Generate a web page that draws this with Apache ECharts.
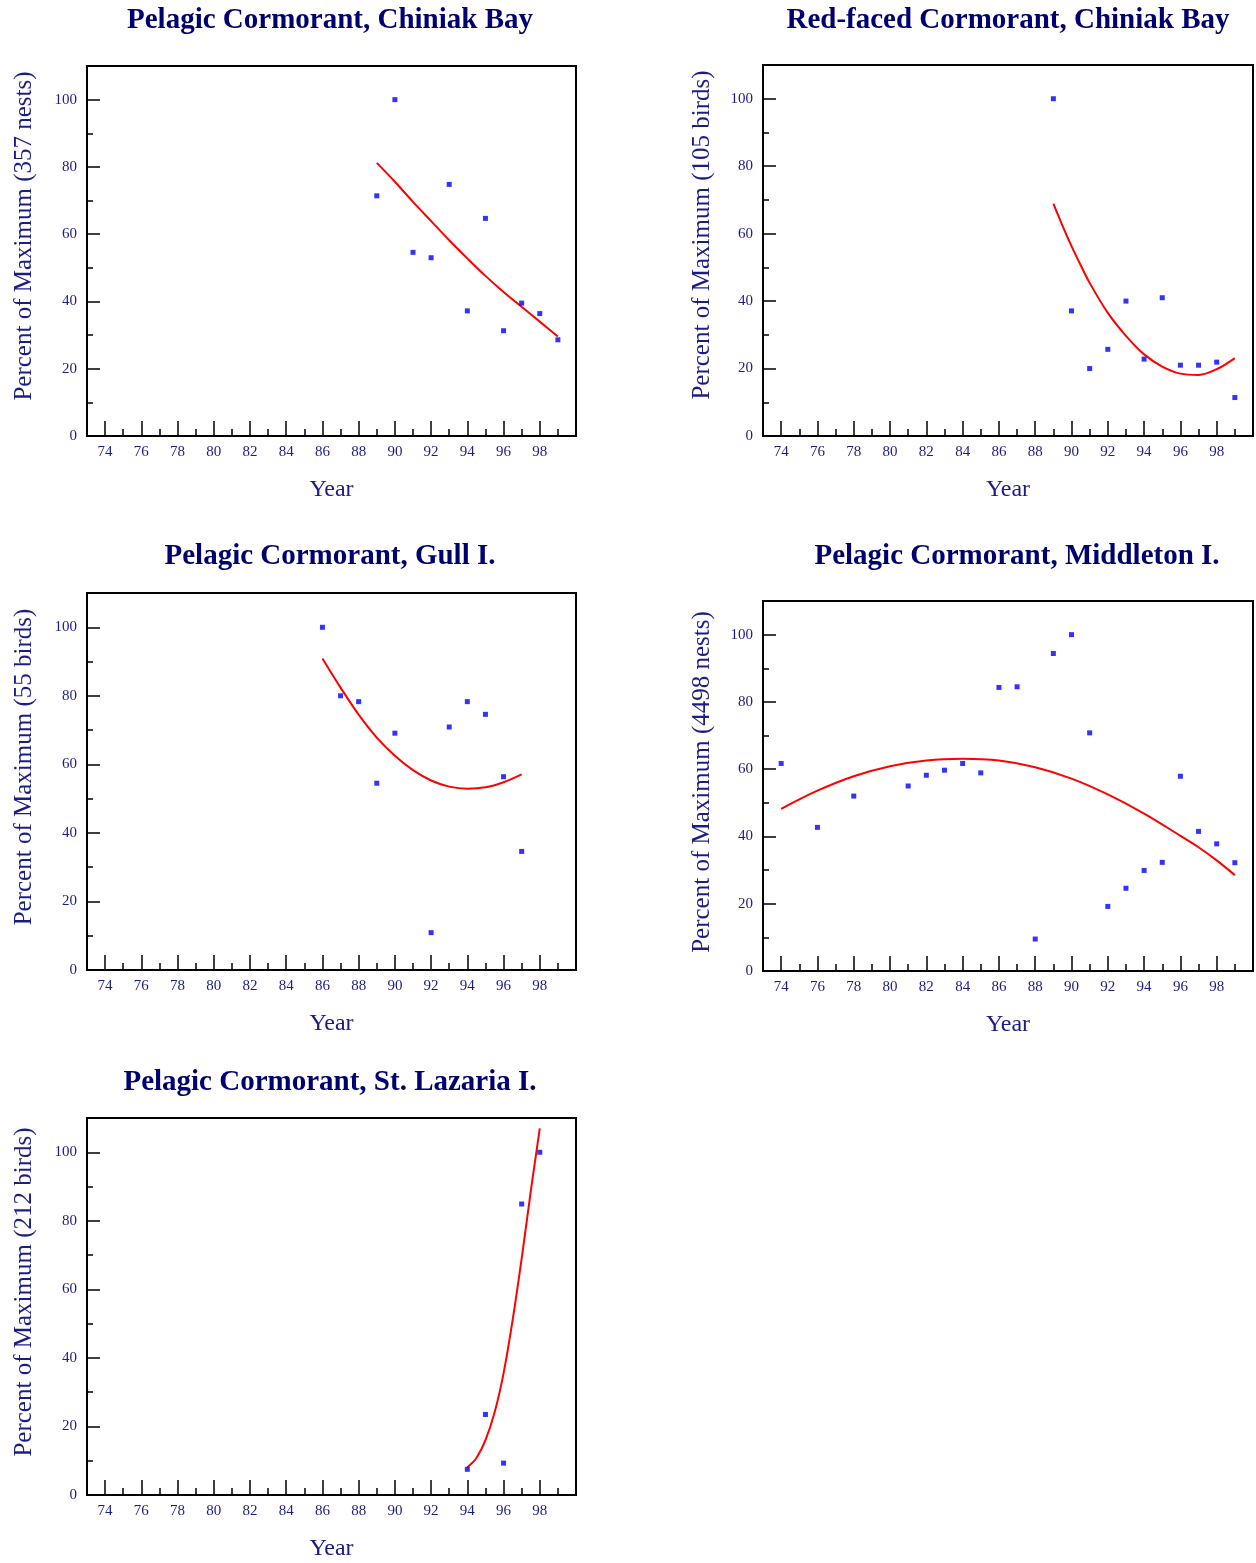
<!DOCTYPE html>
<html>
<head>
<meta charset="utf-8">
<script src="https://cdn.jsdelivr.net/npm/echarts@6/dist/echarts.min.js"></script>
<style>
  html, body { margin: 0; padding: 0; background: #ffffff; }
  #chart { width: 1256px; height: 1563px; }
</style>
</head>
<body>
<div id="chart"></div>
<script>
// Axis tick labels
const yearLabels = [74, 76, 78, 80, 82, 84, 86, 88, 90, 92, 94, 96, 98];
const pctLabels = [0, 20, 40, 60, 80, 100];
const pctMinor = [10, 30, 50, 70, 90];

// Pelagic Cormorant, Chiniak Bay (357 nests)
const chiniakPcYears = [89, 90, 91, 92, 93, 94, 95, 96, 97, 98, 99];
const chiniakPcPct = [71.4, 100, 54.6, 53.0, 74.8, 37.2, 64.7, 31.3, 39.5, 36.4, 28.6];
const chiniakPcTrendYears = [89, 90, 91, 92, 93, 94, 95, 96, 97, 98, 99];
const chiniakPcTrend = [81.2, 75.6, 69.6, 63.9, 58.2, 52.8, 47.6, 42.8, 38.4, 34.0, 29.6];

// Red-faced Cormorant, Chiniak Bay (105 birds)
const chiniakRfYears = [89, 90, 91, 92, 93, 94, 95, 96, 97, 98, 99];
const chiniakRfPct = [100, 37.1, 20.0, 25.7, 40.0, 22.8, 41.0, 21.0, 21.0, 21.9, 11.4];
const chiniakRfTrendYears = [89, 89.5, 90, 90.5, 91, 92, 93, 94, 95, 96, 97, 98, 99];
const chiniakRfTrend = [68.9, 62.4, 56.3, 50.7, 45.4, 36.5, 29.7, 24.2, 20.6, 18.5, 18.1, 19.8, 23.1];

// Pelagic Cormorant, Gull I. (55 birds)
const gullYears = [86, 87, 88, 89, 90, 92, 93, 94, 95, 96, 97];
const gullPct = [100, 80.0, 78.3, 54.5, 69.1, 10.9, 70.9, 78.3, 74.6, 56.4, 34.6];
const gullTrendYears = [86, 87, 88, 89, 90, 91, 92, 93, 94, 95, 96, 97];
const gullTrend = [90.9, 82.4, 74.5, 67.8, 62.5, 58.3, 55.3, 53.5, 52.9, 53.3, 54.8, 57.1];

// Pelagic Cormorant, Middleton I. (4498 nests)
const middletonYears = [74, 76, 78, 81, 82, 83, 84, 85, 86, 87, 88, 89, 90, 91, 92, 93, 94, 95, 96, 97, 98, 99];
const middletonPct = [61.7, 42.7, 52.0, 55.0, 58.2, 59.7, 61.7, 58.9, 84.3, 84.5, 9.5, 94.4, 100, 70.8, 19.2, 24.6, 29.9, 32.3, 57.9, 41.5, 37.8, 32.2];
const middletonTrendYears = [74, 76, 78, 80, 82, 84, 86, 88, 90, 92, 94, 96, 97, 98, 99];
const middletonTrend = [48.2, 53.6, 57.9, 60.9, 62.6, 63.1, 62.6, 60.6, 57.2, 52.5, 46.8, 40.2, 36.8, 32.9, 28.5];

// Pelagic Cormorant, St. Lazaria I. (212 birds)
const lazariaYears = [94, 95, 96, 97, 98];
const lazariaPct = [7.5, 23.5, 9.3, 84.9, 100];
const lazariaTrendYears = [94, 94.5, 95, 95.5, 96, 96.5, 97, 97.5, 98];
const lazariaTrend = [8.1, 10.8, 16, 24, 35.5, 51, 69, 88.5, 107];

const panels = [
  { title: 'Pelagic Cormorant, Chiniak Bay', yName: 'Percent of Maximum (357 nests)',
    years: chiniakPcYears, pct: chiniakPcPct, tYears: chiniakPcTrendYears, trend: chiniakPcTrend },
  { title: 'Red-faced Cormorant, Chiniak Bay', yName: 'Percent of Maximum (105 birds)',
    years: chiniakRfYears, pct: chiniakRfPct, tYears: chiniakRfTrendYears, trend: chiniakRfTrend },
  { title: 'Pelagic Cormorant, Gull I.', yName: 'Percent of Maximum (55 birds)',
    years: gullYears, pct: gullPct, tYears: gullTrendYears, trend: gullTrend },
  { title: 'Pelagic Cormorant, Middleton I.', yName: 'Percent of Maximum (4498 nests)',
    years: middletonYears, pct: middletonPct, tYears: middletonTrendYears, trend: middletonTrend },
  { title: 'Pelagic Cormorant, St. Lazaria I.', yName: 'Percent of Maximum (212 birds)',
    years: lazariaYears, pct: lazariaPct, tYears: lazariaTrendYears, trend: lazariaTrend }
];

// Layout of each panel: plot box, title centre, y-title centre
const layout = [
  { left: 87,  top: 66,   width: 489, height: 370, titleX: 330,  titleY: 21,   yNameX: 24,  yNameY: 236 },
  { left: 763, top: 65,   width: 490, height: 371, titleX: 1008, titleY: 21,   yNameX: 702, yNameY: 235 },
  { left: 87,  top: 593,  width: 489, height: 377, titleX: 330,  titleY: 557,  yNameX: 24,  yNameY: 767 },
  { left: 763, top: 601,  width: 490, height: 370, titleX: 1017, titleY: 557,  yNameX: 702, yNameY: 782 },
  { left: 87,  top: 1118, width: 489, height: 377, titleX: 330,  titleY: 1083, yNameX: 24,  yNameY: 1292 }
];

const SERIF = '"Liberation Serif", "Times New Roman", Times, serif';
const TITLE_COLOR = '#000070';
const TEXT_COLOR = '#1c1c86';
const tickStyle = { color: '#000', width: 1.5 };

const grid = [], xAxis = [], yAxis = [], series = [], graphic = [];

panels.forEach((p, i) => {
  const L = layout[i];
  grid.push({
    left: L.left, top: L.top, width: L.width, height: L.height,
    show: true, borderColor: '#000', borderWidth: 2, backgroundColor: 'transparent'
  });

  // yearly short ticks + axis line
  xAxis.push({
    gridIndex: i, type: 'value', min: 73, max: 100, interval: 1, position: 'bottom',
    axisLine: { show: true, lineStyle: { color: '#000', width: 2 } },
    splitLine: { show: false },
    axisTick: { show: true, inside: true, length: 7, lineStyle: tickStyle },
    axisLabel: { show: false },
    name: 'Year', nameLocation: 'middle', nameGap: 42,
    nameTextStyle: { fontFamily: SERIF, fontSize: 24, color: TEXT_COLOR }
  });
  // long ticks and labels on even years
  xAxis.push({
    gridIndex: i, type: 'value', min: 73, max: 100, position: 'bottom',
    axisLine: { show: false }, splitLine: { show: false },
    axisTick: { show: true, inside: true, length: 15, customValues: yearLabels, lineStyle: tickStyle },
    axisLabel: { show: true, customValues: yearLabels, margin: 9,
      fontFamily: SERIF, fontSize: 15, color: TEXT_COLOR }
  });

  yAxis.push({
    gridIndex: i, type: 'value', min: 0, max: 110, position: 'left',
    axisLine: { show: true, lineStyle: { color: '#000', width: 2 } },
    splitLine: { show: false },
    axisTick: { show: true, inside: true, length: 13, customValues: pctLabels, lineStyle: tickStyle },
    axisLabel: { show: true, customValues: pctLabels, margin: 10,
      fontFamily: SERIF, fontSize: 15, color: TEXT_COLOR }
  });
  yAxis.push({
    gridIndex: i, type: 'value', min: 0, max: 110, position: 'left',
    axisLine: { show: false }, splitLine: { show: false },
    axisTick: { show: true, inside: true, length: 6, customValues: pctMinor, lineStyle: tickStyle },
    axisLabel: { show: false }
  });

  series.push({
    type: 'line', xAxisIndex: 2 * i, yAxisIndex: 2 * i,
    data: p.tYears.map((x, k) => [x, p.trend[k]]),
    smooth: 0.35, showSymbol: false, silent: true,
    lineStyle: { color: '#ff0000', width: 2 }, z: 3
  });
  series.push({
    type: 'scatter', xAxisIndex: 2 * i, yAxisIndex: 2 * i,
    data: p.years.map((x, k) => [x, p.pct[k]]),
    symbol: 'rect', symbolSize: 5, itemStyle: { color: '#0000ff' }, z: 4
  });

  graphic.push({
    type: 'text', x: L.titleX, y: L.titleY,
    style: { text: p.title, fontFamily: SERIF, fontSize: 29, fontWeight: 'bold',
      fill: TITLE_COLOR, align: 'center', verticalAlign: 'middle' }
  });
  graphic.push({
    type: 'text', x: L.yNameX, y: L.yNameY, rotation: Math.PI / 2,
    style: { text: p.yName, fontFamily: SERIF, fontSize: 25,
      fill: TEXT_COLOR, align: 'center', verticalAlign: 'middle' }
  });
});

const chart = echarts.init(document.getElementById('chart'), null, { renderer: 'canvas' });
chart.setOption({
  animation: false,
  backgroundColor: '#ffffff',
  grid, xAxis, yAxis, series, graphic
});
</script>
</body>
</html>
